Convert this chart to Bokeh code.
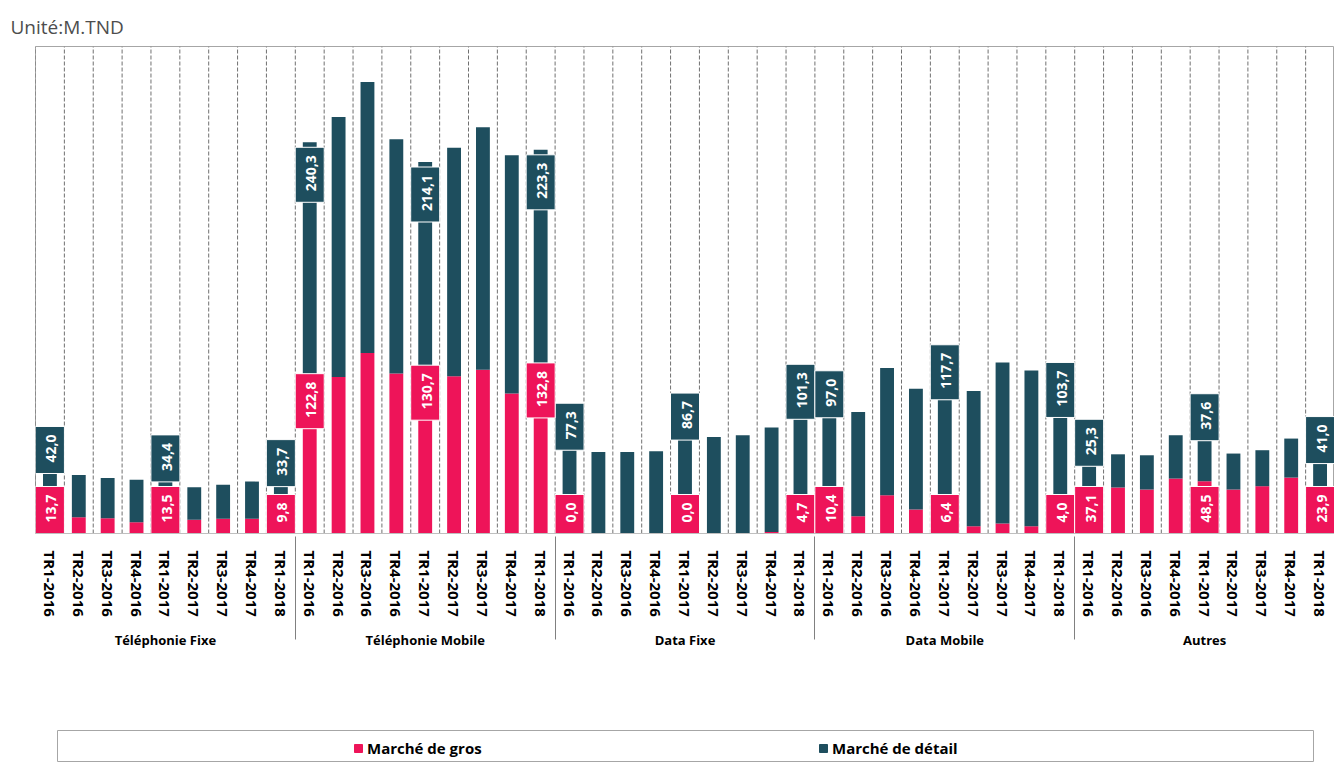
from math import pi
from bokeh.plotting import figure
from bokeh.models import (ColumnDataSource, FactorRange, Range1d,
                          Legend, LegendItem)
from bokeh.transform import dodge
from bokeh.layouts import column
from bokeh.embed import file_html
from bokeh.resources import INLINE
from bokeh.core.properties import value

# ---------------- data ----------------
groups = ["Téléphonie Fixe", "Téléphonie Mobile", "Data Fixe", "Data Mobile", "Autres"]
quarters = ["TR1-2016", "TR2-2016", "TR3-2016", "TR4-2016",
            "TR1-2017", "TR2-2017", "TR3-2017", "TR4-2017", "TR1-2018"]

# Marché de gros (M.TND), 9 quarters per group
gros = [13.7, 15.1, 14.2, 10.5, 13.5, 12.7, 13.6, 13.6, 9.8,          # Téléphonie Fixe
        122.8, 145.3, 167.5, 148.4, 130.7, 146.0, 152.0, 130.0, 132.8,  # Téléphonie Mobile
        0.0, 0.0, 0.0, 0.0, 0.0, 0.0, 0.0, 1.5, 4.7,                # Data Fixe
        10.4, 16.0, 35.5, 22.3, 6.4, 6.8, 9.3, 6.8, 4.0,            # Data Mobile
        37.1, 42.7, 40.8, 51.0, 48.5, 40.8, 43.9, 51.9, 23.9]       # Autres

# Marché de détail (M.TND)
detail = [42.0, 39.3, 37.4, 39.3, 34.4, 30.3, 31.6, 34.6, 33.7,
          240.3, 241.2, 251.5, 217.4, 214.1, 212.0, 225.0, 221.0, 223.3,
          77.3, 75.7, 75.7, 76.3, 86.7, 89.6, 91.2, 96.8, 101.3,
          97.0, 96.8, 118.1, 112.1, 117.7, 125.4, 149.3, 144.6, 103.7,
          25.3, 30.8, 31.8, 40.2, 37.6, 33.4, 33.4, 36.2, 41.0]

labelled_quarters = ["TR1-2016", "TR1-2017", "TR1-2018"]

PINK = "#EE1459"
TEAL = "#1E4E5E"

# ---------------- layout constants ----------------
Y_TOP = 452
FRAME_H = 487
SCALE = FRAME_H / Y_TOP      # px per unit
PAD_ALONG = 8                # padding along the (rotated) text
PAD_ACROSS = 11              # padding across the (rotated) text

x = [(g, q) for g in groups for q in quarters]
total = [a + b for a, b in zip(gros, detail)]
src = ColumnDataSource(dict(x=x, gros=gros, detail=detail))

p = figure(x_range=FactorRange(*x, group_padding=0, factor_padding=0, range_padding=0),
           y_range=Range1d(0, Y_TOP), width=1334, height=658,
           output_backend="svg", toolbar_location=None,
           min_border_left=35, min_border_right=0, min_border_top=46,
           min_border_bottom=125)

p.title.text = "Unité:M.TND"
p.title.text_font = "Open Sans"
p.title.text_font_size = "19px"
p.title.text_font_style = "normal"
p.title.text_color = "#4D4D4D"
p.title.align = "left"
p.title.offset = -25
p.title.standoff = 14

p.outline_line_color = "#A6A6A6"
p.xgrid.grid_line_color = None
p.ygrid.grid_line_color = None
p.yaxis.visible = False

# dashed separators between bars
bsrc = ColumnDataSource(dict(x=x))
p.segment(x0=dodge("x", -0.5, range=p.x_range), x1=dodge("x", -0.5, range=p.x_range),
          y0=0, y1=Y_TOP, source=bsrc, line_color="#707070", line_dash="4 2", line_width=1)
lsrc = ColumnDataSource(dict(x=[x[-1]]))
p.segment(x0=dodge("x", 0.5, range=p.x_range), x1=dodge("x", 0.5, range=p.x_range),
          y0=0, y1=Y_TOP, source=lsrc, line_color="#707070", line_dash="4 2", line_width=1)

p.vbar_stack(["gros", "detail"], x="x", width=0.48, color=[PINK, TEAL],
             line_color=None, source=src)

# ---------------- data labels ----------------
def fmt(v):
    return f"{v:.1f}".replace(".", ",")

d_above = dict(x=[], y=[], t=[])
d_inside = dict(x=[], y=[], t=[])
g_base = dict(x=[], y=[], t=[])
g_mid = dict(x=[], y=[], t=[])
for i, (g, q) in enumerate(x):
    if q not in labelled_quarters:
        continue
    if total[i] > 250:
        d_inside["x"].append((g, q)); d_inside["y"].append(total[i] - 5 / SCALE)
        d_inside["t"].append(fmt(detail[i]))
    else:
        d_above["x"].append((g, q)); d_above["y"].append(total[i])
        d_above["t"].append(fmt(detail[i]))
    if gros[i] > 60:
        g_mid["x"].append((g, q)); g_mid["y"].append(gros[i]); g_mid["t"].append(fmt(gros[i]))
    else:
        g_base["x"].append((g, q)); g_base["y"].append(0)
        g_base["t"].append(fmt(gros[i]))

def add_labels(data, align, color):
    p.text(x="x", y="y", text="t", source=ColumnDataSource(data), angle=pi / 2,
           text_align=align, text_baseline="middle", text_color="white",
           text_font=value("Open Sans"), text_font_style="bold", text_font_size="14px",
           background_fill_color=color, border_line_color="white",
           padding=(PAD_ACROSS, PAD_ALONG, PAD_ACROSS, PAD_ALONG))

add_labels(d_above, "left", TEAL)
add_labels(d_inside, "right", TEAL)
add_labels(g_base, "left", PINK)
add_labels(g_mid, "center", PINK)

# ---------------- x axis ----------------
ax = p.xaxis[0]
ax.major_label_orientation = "vertical"
ax.major_label_text_font = "Open Sans"
ax.major_label_text_font_size = "15px"
ax.major_label_text_font_style = "bold"
ax.major_label_text_color = "#000000"
ax.major_label_standoff = 11
ax.group_text_font = "Open Sans"
ax.group_text_font_size = "13px"
ax.group_text_font_style = "bold"
ax.group_text_color = "#000000"
ax.separator_line_color = "#808080"
ax.separator_line_width = 1
ax.major_tick_line_color = None
ax.minor_tick_line_color = None
ax.axis_line_color = "#BFBFBF"

# ---------------- legend box ----------------
lf = figure(width=1292, height=32, x_range=Range1d(0, 1), y_range=Range1d(0, 1),
            x_axis_type=None, y_axis_type=None, output_backend="svg",
            toolbar_location=None, min_border=0, outline_line_color="#A6A6A6",
            margin=(72, 0, 0, 22))
lf.xgrid.grid_line_color = None
lf.ygrid.grid_line_color = None
r1 = lf.vbar(x=[5], top=[1], width=0.5, color=PINK)
r2 = lf.vbar(x=[5], top=[1], width=0.5, color=TEAL)
leg = Legend(items=[LegendItem(label="Marché de gros", renderers=[r1]),
                    LegendItem(label="Marché de détail", renderers=[r2])],
             orientation="horizontal", location=(296, 4), padding=0, margin=0,
             spacing=326, glyph_width=10, glyph_height=10, label_standoff=4,
             label_width=125, label_text_font="Open Sans", label_text_font_size="15px",
             label_text_font_style="bold", label_text_color="#000000",
             border_line_color=None, background_fill_alpha=0)
lf.add_layout(leg)

layout = column(p, lf, spacing=0)
open("out.html", "w").write(file_html(layout, INLINE))
